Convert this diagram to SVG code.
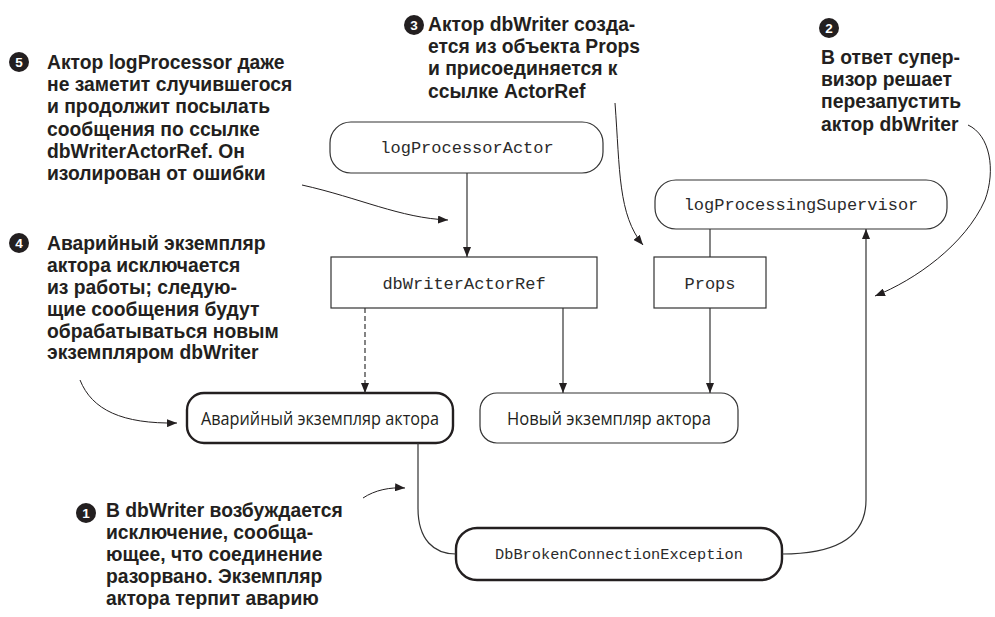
<svg xmlns="http://www.w3.org/2000/svg" width="995" height="617" viewBox="0 0 995 617">
  <style>
    .note { font-family: "Liberation Sans", Arial, sans-serif; font-weight: 700; font-size: 19.5px; fill: #231f20; }
    .num { font-family: "Liberation Sans", Arial, sans-serif; font-weight: 700; font-size: 13.5px; fill: #ffffff; text-anchor: middle; }
    .badge { fill: #231f20; }
    .mono { font-family: "Liberation Mono", "Courier New", monospace; font-size: 17px; fill: #2b2b2b; text-anchor: middle; }
    .plain { font-family: "Open Sans", "Liberation Sans", sans-serif; font-size: 19px; fill: #231f20; text-anchor: middle; }
    .box { fill: #ffffff; stroke: #333333; stroke-width: 1.2; }
    .heavy { fill: #ffffff; stroke: #231f20; stroke-width: 2.4; }
    .wire { fill: none; stroke: #333333; stroke-width: 1.2; }
    .dash { stroke-dasharray: 5 3; }
    .lead { fill: none; stroke: #231f20; stroke-width: 1; }
  </style>
  <defs>
    <marker id="tip" viewBox="0 0 10 8" refX="10" refY="4" markerWidth="10" markerHeight="8" markerUnits="userSpaceOnUse" orient="auto">
      <path d="M0,0 L10,4 L0,8 Z" fill="#231f20"/>
    </marker>
  </defs>

  <rect width="995" height="617" fill="#ffffff"/>

  <!-- numbered notes -->
  <g id="note5">
    <circle class="badge" cx="19" cy="62" r="10"/>
    <text class="num" x="19" y="66.8">5</text>
    <text class="note" transform="translate(47 69) scale(0.99 1)">
      <tspan x="0" y="0">Актор logProcessor даже</tspan>
      <tspan x="0" y="22.2">не заметит случившегося</tspan>
      <tspan x="0" y="44.4">и продолжит посылать</tspan>
      <tspan x="0" y="66.6">сообщения по ссылке</tspan>
      <tspan x="0" y="88.8">dbWriterActorRef. Он</tspan>
      <tspan x="0" y="111">изолирован от ошибки</tspan>
    </text>
  </g>

  <g id="note3">
    <circle class="badge" cx="414" cy="25" r="10"/>
    <text class="num" x="414" y="29.8">3</text>
    <text class="note" transform="translate(428 31) scale(0.99 1)">
      <tspan x="0" y="0">Актор dbWriter созда-</tspan>
      <tspan x="0" y="22.2">ется из объекта Props</tspan>
      <tspan x="0" y="44.4">и присоединяется к</tspan>
      <tspan x="0" y="66.6">ссылке ActorRef</tspan>
    </text>
  </g>

  <g id="note2">
    <circle class="badge" cx="829" cy="28" r="10"/>
    <text class="num" x="829" y="32.8">2</text>
    <text class="note" transform="translate(821 64) scale(0.99 1)">
      <tspan x="0" y="0">В ответ супер-</tspan>
      <tspan x="0" y="22.2">визор решает</tspan>
      <tspan x="0" y="44.4">перезапустить</tspan>
      <tspan x="0" y="66.6">актор dbWriter</tspan>
    </text>
  </g>

  <g id="note4">
    <circle class="badge" cx="19" cy="243" r="10"/>
    <text class="num" x="19" y="247.8">4</text>
    <text class="note" transform="translate(47 250) scale(0.99 1)">
      <tspan x="0" y="0">Аварийный экземпляр</tspan>
      <tspan x="0" y="21.9">актора исключается</tspan>
      <tspan x="0" y="43.8">из работы; следую-</tspan>
      <tspan x="0" y="65.7">щие сообщения будут</tspan>
      <tspan x="0" y="87.6">обрабатываться новым</tspan>
      <tspan x="0" y="109.5">экземпляром dbWriter</tspan>
    </text>
  </g>

  <g id="note1">
    <circle class="badge" cx="86" cy="513" r="10"/>
    <text class="num" x="86" y="517.8">1</text>
    <text class="note" transform="translate(106 517) scale(0.99 1)">
      <tspan x="0" y="0">В dbWriter возбуждается</tspan>
      <tspan x="0" y="22">исключение, сообща-</tspan>
      <tspan x="0" y="44">ющее, что соединение</tspan>
      <tspan x="0" y="66">разорвано. Экземпляр</tspan>
      <tspan x="0" y="88">актора терпит аварию</tspan>
    </text>
  </g>

  <!-- actors and references -->
  <g id="logProcessorActor">
    <rect class="box" x="330" y="122" width="273" height="51" rx="21"/>
    <text class="mono" x="467" y="153">logProcessorActor</text>
  </g>

  <g id="logProcessingSupervisor">
    <rect class="box" x="655" y="180" width="292" height="49" rx="21"/>
    <text class="mono" x="801" y="210">logProcessingSupervisor</text>
  </g>

  <g id="dbWriterActorRef">
    <rect class="box" x="331" y="257" width="266" height="51"/>
    <text class="mono" x="464" y="289">dbWriterActorRef</text>
  </g>

  <g id="props">
    <rect class="box" x="654" y="257" width="112" height="51"/>
    <text class="mono" x="710" y="289">Props</text>
  </g>

  <g id="crashedInstance">
    <rect class="heavy" x="187" y="393" width="266" height="50" rx="17"/>
    <text class="plain" x="320" y="425" textLength="238" lengthAdjust="spacingAndGlyphs">Аварийный экземпляр актора</text>
  </g>

  <g id="newInstance">
    <rect class="box" x="480" y="393" width="258" height="50" rx="17"/>
    <text class="plain" x="609" y="425" textLength="204" lengthAdjust="spacingAndGlyphs">Новый экземпляр актора</text>
  </g>

  <g id="exception">
    <rect class="heavy" x="456" y="528" width="326" height="52" rx="21"/>
    <text class="mono" x="619" y="559" style="font-size:15.3px">DbBrokenConnectionException</text>
  </g>

  <!-- connectors -->
  <g id="connectors">
    <line class="wire" x1="467" y1="173" x2="467" y2="257" marker-end="url(#tip)"/>
    <line class="wire dash" x1="365" y1="308" x2="365" y2="393" marker-end="url(#tip)"/>
    <line class="wire" x1="563" y1="308" x2="563" y2="393" marker-end="url(#tip)"/>
    <line class="wire" x1="710" y1="229" x2="710" y2="257"/>
    <line class="wire" x1="710" y1="308" x2="710" y2="393" marker-end="url(#tip)"/>
    <path class="wire" d="M418,443 V508 C418,540 434,554 456,554"/>
    <path class="wire" d="M782,554 C840,554 866,535 866,500 V229" marker-end="url(#tip)"/>

    <!-- leader arrows from the notes -->
    <path class="lead" d="M302,185 C360,198 400,218 448,220" marker-end="url(#tip)"/>
    <path class="lead" d="M615,103 C620,170 618,215 643,245" marker-end="url(#tip)"/>
    <path class="lead" d="M968,125 C990,135 996,170 985,200 C965,245 915,280 875,296" marker-end="url(#tip)"/>
    <path class="lead" d="M80,380 C92,410 122,424 177,423" marker-end="url(#tip)"/>
    <path class="lead" d="M363,498 C375,490 390,487 405,488" marker-end="url(#tip)"/>
  </g>
</svg>
